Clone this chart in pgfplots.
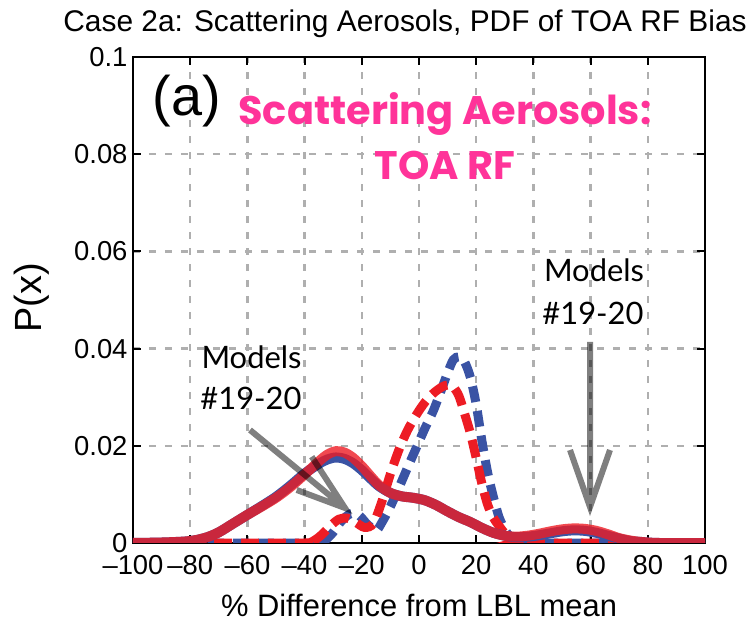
\documentclass[border=0pt]{standalone}
\usepackage{fontspec}
\setmainfont{Liberation Sans}
\newfontfamily\gill{Lato}
\newfontfamily\comic{Poppins}
\usepackage{pgfplots}
\pgfplotsset{compat=1.18}
\definecolor{myred}{RGB}{237,28,36}
\definecolor{myblue}{RGB}{58,83,164}
\definecolor{gridgray}{RGB}{175,175,175}
\definecolor{mymag}{RGB}{255,51,153}
\definecolor{arrowgray}{RGB}{128,128,128}
\begin{document}
\begin{tikzpicture}
\begin{axis}[
  scale only axis, width=572bp, height=486bp,
  xmin=-100, xmax=100, ymin=0, ymax=0.1,
  xtick={-100,-80,-60,-40,-20,0,20,40,60,80,100},
  ytick={0,0.02,0.04,0.06,0.08,0.1},
  xticklabels={–100,–80,–60,–40,–20,0,20,40,60,80,100},
  yticklabels={0,0.02,0.04,0.06,0.08,0.1},
  tick label style={font=\fontsize{27.5}{28}\selectfont},
  xticklabel style={yshift=-9bp},
  yticklabel style={xshift=-2bp},
  grid=major,
  major grid style={color=gridgray, line width=2.4bp, dash pattern=on 7bp off 9bp},
  axis line style={line width=2.4bp, black},
  every tick/.style={line width=2bp, black},
  major tick length=8bp, tick align=inside,
  xtick pos=both, ytick pos=both,
]
\addplot[myblue, line width=9bp, dash pattern=on 16bp off 9bp, smooth] coordinates {
(-100,0)(-36,0)(-33,0.0005)(-30,0.0022)(-27,0.0046)(-24,0.0060)(-21,0.0057)(-18,0.0038)(-15,0.0026)(-13,0.0042)(-10,0.0075)(-7,0.0114)(-4,0.0155)(-1,0.0195)(2,0.0235)(5,0.0272)(8,0.0318)(10,0.0350)(12,0.0377)(14,0.0383)(16,0.0372)(18,0.0340)(20,0.0285)(22,0.0210)(24,0.0145)(26,0.0095)(28,0.0053)(30,0.0028)(32,0.0012)(35,0.0002)(38,0)(100,0)};
\addplot[myred, line width=9bp, dash pattern=on 18bp off 9bp, smooth] coordinates {
(-100,0)(-40,0)(-37,0.0004)(-34,0.0017)(-31,0.0035)(-28,0.0049)(-25,0.0051)(-22,0.0042)(-19,0.0032)(-16,0.0040)(-13,0.0085)(-10,0.0142)(-7,0.0192)(-4,0.0232)(-1,0.0263)(2,0.0289)(5,0.0308)(8,0.0321)(10,0.0325)(12,0.0321)(14,0.0302)(16,0.0265)(18,0.0225)(20,0.0175)(22,0.0122)(24,0.0079)(26,0.0052)(28,0.0035)(30,0.0020)(32,0.0010)(35,0.0002)(38,0)(100,0)};
\addplot[myblue, line width=10bp, smooth, line join=round] coordinates {
(-100,0)(-90,0.0001)(-82,0.0003)(-78,0.0006)(-74,0.0012)(-70,0.0022)(-65,0.0040)(-60,0.0058)(-55,0.0076)(-50,0.0095)(-45,0.0118)(-40,0.0143)(-35,0.0163)(-32,0.0172)(-29,0.0176)(-26,0.0173)(-23,0.0164)(-20,0.0150)(-17,0.0133)(-14,0.0117)(-10,0.0103)(-6,0.0096)(-2,0.0093)(2,0.0088)(6,0.0078)(10,0.0065)(14,0.0053)(18,0.0043)(22,0.0031)(26,0.0021)(30,0.0015)(34,0.0012)(38,0.0013)(42,0.0016)(46,0.0020)(50,0.0024)(54,0.0026)(58,0.0025)(62,0.0021)(66,0.0015)(70,0.0009)(74,0.0004)(78,0.0002)(84,0)(100,0)};
\addplot[myred, opacity=0.8, line width=10bp, smooth, line join=round] coordinates {
(-100,0)(-90,0.0001)(-82,0.0003)(-78,0.0006)(-74,0.0012)(-70,0.0022)(-65,0.0040)(-60,0.0058)(-55,0.0075)(-50,0.0093)(-45,0.0115)(-40,0.0141)(-35,0.0168)(-32,0.0182)(-29,0.0189)(-26,0.0186)(-23,0.0175)(-20,0.0158)(-17,0.0138)(-14,0.0119)(-10,0.0103)(-6,0.0096)(-2,0.0093)(2,0.0088)(6,0.0078)(10,0.0065)(14,0.0053)(18,0.0043)(22,0.0031)(26,0.0021)(30,0.0015)(34,0.0013)(38,0.0015)(42,0.0019)(46,0.0024)(50,0.0028)(54,0.0030)(58,0.0029)(62,0.0025)(66,0.0018)(70,0.0010)(74,0.0005)(78,0.0002)(84,0)(100,0)};
\end{axis}
% annotations (bp coordinates, origin at lower-left of axis box)
\node[anchor=base, inner sep=0] at (272bp,511bp) {\fontsize{30}{30}\selectfont Case 2a: Scattering Aerosols, PDF of TOA RF Bias};
\node[anchor=base, inner sep=0] at (54bp,427bp) {\fontsize{56}{56}\selectfont (a)};
\node[anchor=base, inner sep=0, text=mymag] at (312bp,418bp) {\fontsize{40}{40}\selectfont\comic\bfseries Scattering Aerosols:};
\node[anchor=base, inner sep=0, text=mymag] at (312bp,363bp) {\fontsize{40}{40}\selectfont\comic\bfseries TOA RF};
\node[anchor=base, inner sep=0] at (118.5bp,174.5bp) {\fontsize{31}{31}\selectfont\gill Models};
\node[anchor=base, inner sep=0] at (118bp,133bp) {\fontsize{31}{31}\selectfont\gill \#19-20};
\node[anchor=base, inner sep=0] at (461bp,261.5bp) {\fontsize{31}{31}\selectfont\gill Models};
\node[anchor=base, inner sep=0] at (460bp,218bp) {\fontsize{31}{31}\selectfont\gill \#19-20};
\begin{scope}[transparency group, opacity=0.5]
\draw[black, line width=6bp, line join=miter] (117bp,113bp) -- (212bp,35bp) (178.7bp,86.3bp) -- (212bp,35bp) -- (163.7bp,53bp);
\end{scope}
\begin{scope}[transparency group, opacity=0.5]
\draw[black, line width=6bp, line join=miter] (457bp,201bp) -- (457bp,36bp) (437bp,93bp) -- (457bp,36bp) -- (477bp,93bp);
\end{scope}
\node[rotate=90, anchor=center, inner sep=0] at (-101bp,245bp) {\fontsize{38}{38}\selectfont P(x)};
\node[anchor=base, inner sep=0] at (286bp,-73bp) {\fontsize{31}{31}\selectfont \% Difference from LBL mean};
\pgfresetboundingbox
\useasboundingbox (-133bp,-82bp) rectangle (621bp,543bp);
\end{tikzpicture}
\end{document}
